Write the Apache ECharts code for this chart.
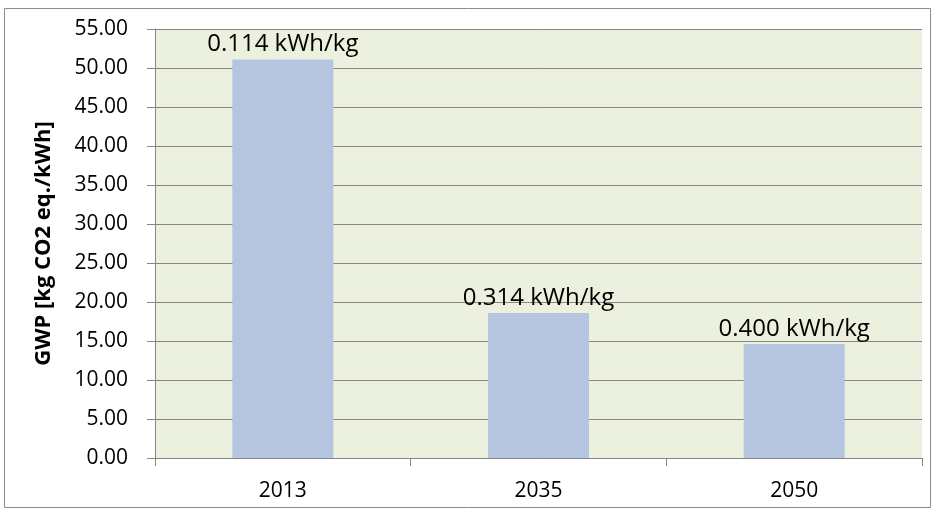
<!DOCTYPE html>
<html>
<head>
<meta charset="utf-8">
<script src="https://cdn.jsdelivr.net/npm/echarts@6/dist/echarts.min.js"></script>
<style>
  html, body { margin: 0; padding: 0; background: #fff; }
  #chart { width: 936px; height: 511px; }
</style>
</head>
<body>
<div id="chart"></div>
<script>
var years = ['2013', '2035', '2050'];
var gwp = [51.1, 18.6, 14.6];
var barNotes = ['0.114 kWh/kg', '0.314 kWh/kg', '0.400 kWh/kg'];
var yTicks = { min: 0, max: 55, step: 5 };

var myChart = echarts.init(document.getElementById('chart'));
var font = 'Open Sans, Noto Sans, sans-serif';

myChart.setOption({
  animation: false,
  graphic: [{
    type: 'rect',
    shape: { x: 4.5, y: 8.5, width: 926, height: 499 },
    style: { fill: 'none', stroke: '#8c8c8c', lineWidth: 1 },
    silent: true
  }],
  grid: {
    left: 155, right: 14, top: 29, bottom: 53,
    show: true, backgroundColor: '#EBF1DE', borderWidth: 0
  },
  xAxis: {
    type: 'category',
    data: years,
    axisLine: { lineStyle: { color: '#868686', width: 1 } },
    axisTick: { show: true, length: 8, lineStyle: { color: '#868686' } },
    axisLabel: { color: '#000', fontSize: 21, fontFamily: font, margin: 23 }
  },
  yAxis: {
    type: 'value',
    min: yTicks.min, max: yTicks.max, interval: yTicks.step,
    name: 'GWP [kg CO2 eq./kWh]',
    nameLocation: 'middle',
    nameGap: 100,
    nameTextStyle: { color: '#000', fontSize: 22, fontWeight: 'bold', fontFamily: font },
    axisLine: { show: true, lineStyle: { color: '#868686', width: 1 } },
    axisTick: { show: true, length: 8, lineStyle: { color: '#868686' } },
    axisLabel: {
      color: '#000', fontSize: 21, fontFamily: font, margin: 27,
      formatter: function (v) { return v.toFixed(2); }
    },
    splitLine: { show: true, lineStyle: { color: '#868686', width: 1 } }
  },
  series: [{
    type: 'bar',
    data: gwp,
    barWidth: '39.5%',
    itemStyle: { color: '#B5C4DF' },
    label: {
      show: true,
      position: 'top',
      distance: 3,
      color: '#000',
      fontSize: 24,
      fontFamily: font,
      formatter: function (p) { return barNotes[p.dataIndex]; }
    }
  }]
});
</script>
</body>
</html>
